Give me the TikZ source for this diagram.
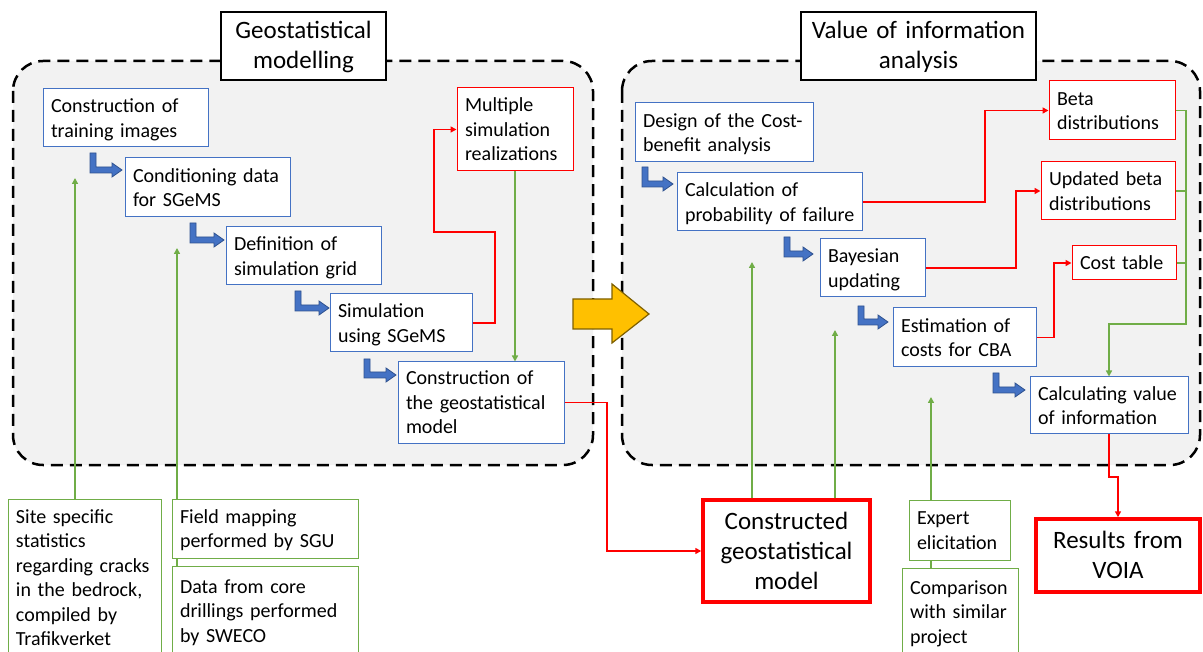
\documentclass[tikz,border=0pt]{standalone}
\usepackage{fontspec}
\setmainfont{Carlito}
\usetikzlibrary{arrows.meta}
\definecolor{oblue}{RGB}{68,114,196}
\definecolor{oblueD}{RGB}{47,82,143}
\definecolor{ogreen}{RGB}{112,173,71}
\definecolor{ored}{RGB}{255,0,0}
\definecolor{cfill}{RGB}{242,242,242}
\definecolor{oyellow}{RGB}{255,192,0}
\definecolor{oyellowD}{RGB}{127,96,0}
\newcommand{\bx}[7]{%
  \pgfmathsetmacro\bxw{#5-#3}%
  \pgfmathsetmacro\bxh{#6-#4}%
  \pgfmathsetmacro\bxt{#5-#3-16}%
  \node[#1, minimum width=\bxw pt, minimum height=\bxh pt, text width=\bxt pt] (#2) at ({(#3+#5)/2},{(#4+#6)/2}) {\raisebox{-2pt}[\height][\depth]{\begin{tabular}{@{}l@{}}#7\end{tabular}}};}
\newcommand{\bxc}[7]{%
  \pgfmathsetmacro\bxw{#5-#3}%
  \pgfmathsetmacro\bxh{#6-#4}%
  \pgfmathsetmacro\bxt{#5-#3-16}%
  \node[#1, minimum width=\bxw pt, minimum height=\bxh pt, text width=\bxt pt] (#2) at ({(#3+#5)/2},{(#4+#6)/2}) {\raisebox{-2pt}[\height][\depth]{\begin{tabular}{@{}c@{}}#7\end{tabular}}};}
\newcommand{\elbow}[4]{%
  \fill[fill=oblue, draw=oblueD, line width=0.8pt, line join=miter]
   ({#1-3},#2) -- ({#1-3},{#3+3}) -- ({#4-10},{#3+3}) -- ({#4-10},{#3+7}) -- (#4,#3)
   -- ({#4-10},{#3-7}) -- ({#4-10},{#3-3}) -- ({#1+3},{#3-3}) -- ({#1+3},#2) -- cycle;}
\tikzset{
  fs/.style={font=\fontsize{20}{24.5}\selectfont},
  fl/.style={font=\fontsize{25}{30}\selectfont},
  box/.style={draw, fill=white, inner xsep=8pt, inner ysep=0pt, align=left, fs},
  bluebox/.style={box, draw=oblue, line width=1pt},
  redbox/.style={box, draw=ored, line width=1pt},
  greenbox/.style={box, draw=ogreen, line width=1pt},
  bigred/.style={box, draw=ored, line width=3.5pt, align=center, fl},
  titlebox/.style={box, draw=black, line width=2.5pt, align=center, fl},
  container/.style={draw=black, fill=cfill, line width=2.5pt, dash pattern=on 12pt off 7pt, rounded corners=30pt},
  tip/.style={-{Triangle[length=6pt,width=6pt]}},
  redline/.style={draw=ored, line width=1.8pt},
  greenline/.style={draw=ogreen, line width=1.5pt},
}
\begin{document}
\begin{tikzpicture}[x=1pt,y=-1pt]
\useasboundingbox[fill=white] (0,0) rectangle (1203,652);
% containers
\draw[container] (13,61) rectangle (593,465);
\draw[container] (622,61) rectangle (1200,465);
% yellow arrow
\draw[fill=oyellow, draw=oyellowD, line width=1.2pt, line join=miter]
  (573,299) -- (612,299) -- (612,284) -- (649,314) -- (612,343) -- (612,329) -- (573,329) -- cycle;
% titles
\bxc{titlebox}{t1}{221}{12}{386}{80}{Geostatistical\\modelling}
\bxc{titlebox}{t2}{801}{12}{1036}{80}{Value of information\\analysis}
% left boxes
\bx{bluebox}{tr}{43}{89}{208}{147}{Construction of\\training images}
\bx{bluebox}{cd}{125}{158}{290}{217}{Conditioning data\\for SGeMS}
\bx{bluebox}{dg}{226}{227}{381}{285}{Definition of\\simulation grid}
\bx{bluebox}{sim}{330}{294}{472}{352}{Simulation\\using SGeMS}
\bx{bluebox}{cgm}{398}{362}{564}{443}{Construction of\\the geostatistical\\model}
\bx{redbox}{multi}{457}{88}{573}{171}{Multiple\\simulation\\realizations}
% right boxes
\bx{bluebox}{design}{635}{103}{813}{162}{Design of the Cost-\\benefit analysis}
\bx{bluebox}{calc}{677}{173}{862}{231}{Calculation of\\probability of failure}
\bx{bluebox}{bayes}{820}{239}{925}{297}{Bayesian\\updating}
\bx{bluebox}{est}{893}{308}{1036}{367}{Estimation of\\costs for CBA}
\bx{bluebox}{cvoi}{1030}{377}{1188}{434}{Calculating value\\of information}
\bx{redbox}{beta}{1049}{81}{1175}{140}{Beta\\distributions}
\bx{redbox}{upd}{1041}{162}{1175}{220}{Updated beta\\distributions}
\bx{redbox}{cost}{1072}{246}{1176}{280}{Cost table}
% bottom boxes
\bx{greenbox}{site}{8}{499}{161}{656}{Site specific\\statistics\\regarding cracks\\in the bedrock,\\compiled by\\Trafikverket}
\bx{greenbox}{field}{172}{499}{358}{558}{Field mapping\\performed by SGU}
\bx{greenbox}{data}{172}{566}{358}{656}{Data from core\\drillings performed\\by SWECO}
\bxc{bigred}{constr}{703}{500}{870}{602}{Constructed\\geostatistical\\model}
\bx{greenbox}{expert}{909}{500}{1010}{560}{Expert\\elicitation}
\bx{greenbox}{comp}{902}{568}{1018}{656}{Comparison\\with similar\\project}
\bxc{bigred}{res}{1036}{519}{1200}{592}{Results from\\VOIA}
% elbow arrows
\elbow{93}{153}{170}{122}
\elbow{193}{223}{240}{224}
\elbow{298}{291}{308}{329}
\elbow{367}{359}{375}{396}
\elbow{645}{167}{184}{673}
\elbow{787}{237}{254}{813}
\elbow{861}{306}{322}{888}
\elbow{996}{373}{390}{1025}
% red connectors
\coordinate (r1) at (495,232);
\coordinate (r2) at (434,129.5);
\draw[redline, tip] (sim.east) -| (r1) -| (r2) -- (r2 -| multi.west);
\coordinate (r3) at (607,551);
\draw[redline, tip] (cgm.east) -| (r3) -- (constr.west);
\coordinate (r4) at (985,110.5);
\draw[redline, tip] (calc.east) -| (r4) -- (beta.west);
\coordinate (r5) at (1016,191);
\draw[redline, tip] (bayes.east) -| (r5) -- (upd.west);
\coordinate (r6) at (1054,263);
\draw[redline, tip] (est.east) -| (r6) -- (cost.west);
\coordinate (r7) at (1109,477);
\draw[redline, tip] (cvoi.south) -- (r7) -| (res.north);
% green connectors
\coordinate (g1) at (75,178);
\draw[greenline, tip] (g1 |- site.north) -- (g1);
\coordinate (g2) at (177,248);
\draw[greenline, tip] (g2 |- field.north) -- (g2);
\draw[greenline] (g2 |- field.south) -- (g2 |- data.north);
\draw[greenline, tip] (multi.south) -- (multi.south |- cgm.north);
\coordinate (gt) at (1186,110.5);
\coordinate (gb) at (1186,324);
\draw[greenline] (beta.east) -- (gt);
\draw[greenline] (upd.east) -- (upd.east -| gt);
\draw[greenline] (cost.east) -- (cost.east -| gt);
\draw[greenline, tip] (gt) -- (gb) -| (cvoi.north);
\coordinate (g3) at (752,262);
\draw[greenline, tip] (g3 |- constr.north) -- (g3);
\coordinate (g4) at (835,330);
\draw[greenline, tip] (g4 |- constr.north) -- (g4);
\coordinate (g5) at (931,397);
\draw[greenline, tip] (g5 |- expert.north) -- (g5);
\draw[greenline] (g5 |- expert.south) -- (g5 |- comp.north);
\end{tikzpicture}
\end{document}
